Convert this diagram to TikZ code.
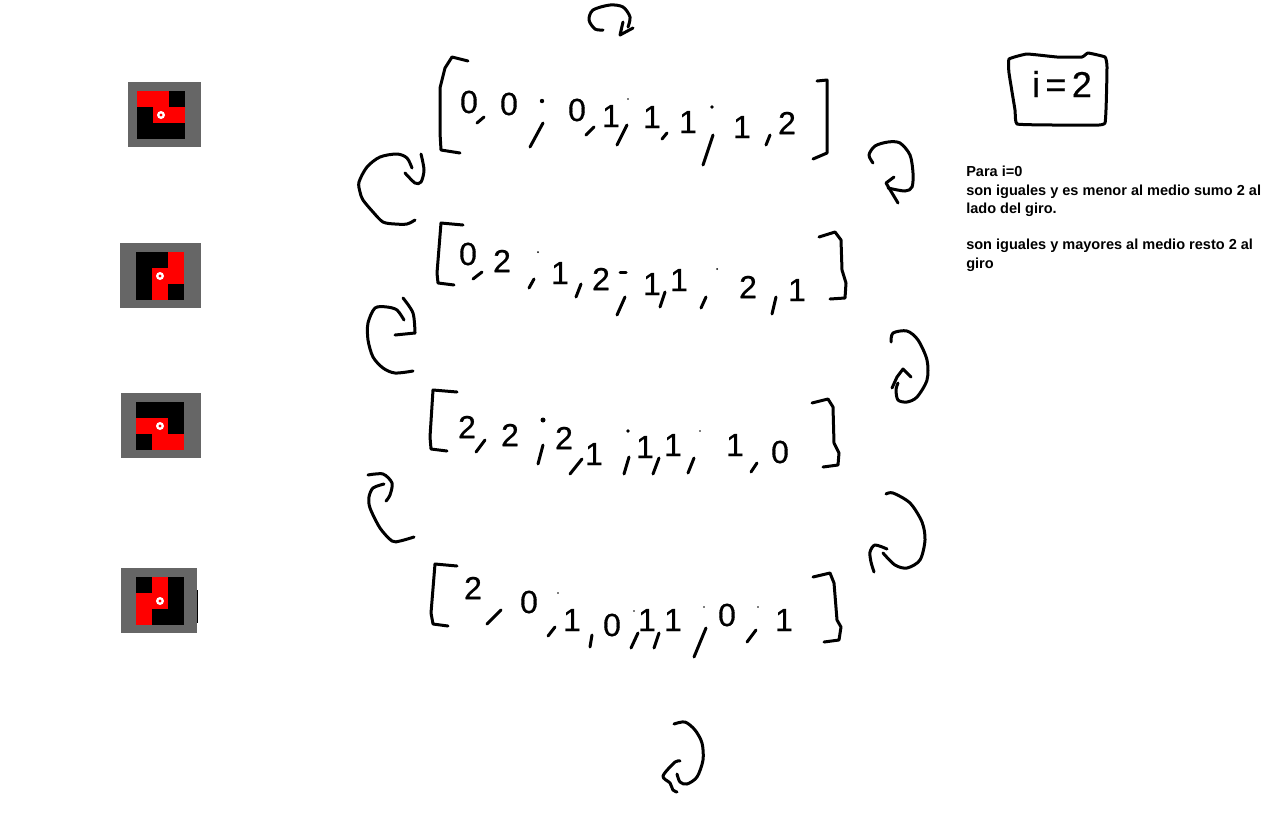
\documentclass[tikz,border=0pt]{standalone}
\usepackage{fontspec}
\newfontfamily\manofont[FakeBold=0.5]{Liberation Sans}
\newfontfamily\notafont{Liberation Sans}
\definecolor{marcogris}{HTML}{666666}
\tikzset{
	trazo/.style={line width=2.25pt, line cap=round, line join=round},
	digito/.style={inner sep=0pt, font=\manofont\fontsize{24}{26}\selectfont},
	notas/.style={inner sep=0pt, align=left, anchor=north west, font=\notafont\bfseries\fontsize{10.9}{13.7}\selectfont}
}
\begin{document}
\begin{tikzpicture}[x=0.75pt, y=-0.75pt]
	\useasboundingbox (0,0) rectangle (1266,819);
	\foreach \gxa/\gya/\gxb/\gyb/\bx/\by/\celdas in {
		128/82/201/147/137/91/{0/0,1/0,1/1,2/1},
		120/243/201/308/136/252/{2/0,2/1,1/1,1/2},
		121/393/201/458/136/402/{0/1,1/1,1/2,2/2},
		121/568/197/633/136/577/{1/0,1/1,0/1,0/2}}{
		\fill[marcogris] (\gxa,\gya) rectangle (\gxb,\gyb);
		\fill[black] (\bx,\by) rectangle ++(48,48);
		\foreach \c/\f in \celdas {
			\fill[red] (\bx+16*\c,\by+16*\f) rectangle ++(16,16);
		}
		\fill[white] (\bx+24,\by+24) circle[radius=4];
		\fill[red] (\bx+24,\by+24) circle[radius=1.7];
	}
	\draw[line width=1pt] (197.5,590)--(197.5,623);

	\foreach \n/\px/\py/\dig in {
		a/469/102/0, b/509/104/0, c/577/110/0, d/611/116/1, e/652/117/1, f/688/122/1, g/742/127/1, h/787/123/2}{
		\node[digito] (fila1\n) at (\px,\py) {\dig};
	}
	\foreach \n/\px/\py/\dig in {
		a/468/254/0, b/502/261/2, c/560/273/1, d/601/279/2, e/652/284/1, f/679/280/1, g/748/287/2, h/797/290/1}{
		\node[digito] (fila2\n) at (\px,\py) {\dig};
	}
	\foreach \n/\px/\py/\dig in {
		a/467/427/2, b/510/435/2, c/564/438/2, d/594/454/1, e/645/447/1, f/673/445/1, g/735/445/1, h/780/452/0}{
		\node[digito] (fila3\n) at (\px,\py) {\dig};
	}
	\foreach \n/\px/\py/\dig in {
		a/473/588/2, b/529/602/0, c/572/620/1, d/612/625/0, e/647/620/1, f/673/620/1, g/727/615/0, h/784/620/1}{
		\node[digito] (fila4\n) at (\px,\py) {\dig};
	}

	\foreach \xa/\ya/\xb/\yb in {
		477/123/484/117, 543/123/530/147, 586/135/594/127, 627/125/617/145, 667/133/662/139, 713/135/703/165, 770/135/766/145,
		473/279/482/272, 534/279/529/288, 581/284/576/297, 620/272/626/272, 625/297/617/315, 665/292/660/307, 706/297/701/308, 776/297/772/314,
		485/440/476/452, 543/445/538/464, 582/459/570/474, 629/457/624/474, 659/458/653/474, 694/458/688/473, 757/463/751/472,
		501/610/487/624, 555/627/548/636, 592/635/590/647, 638/633/631/648, 659/633/654/648, 706/628/694/657, 756/630/747/642}{
		\draw[trazo] (\xa,\ya)--(\xb,\yb);
	}
	\foreach \px/\py/\rad in {542/101/2.2, 628/99/0.8, 712/107/1.8, 538/252/1, 717/269/1, 543/420/2.5, 628/431/1.8, 700/431/0.8, 558/593/0.8, 634/611/0.8, 704/607/0.8, 758/607/0.8}{
		\fill (\px,\py) circle[radius=\rad];
	}

	\draw[trazo] (468,61)--(452,57)--(445,68)--(440,88)--(440,133)--(441,150)--(460,153);
	\draw[trazo] (817,81)--(827,80)--(827,153)--(813,159);
	\draw[trazo] (463,225)--(441,223)--(437,273)--(438,283)--(454,285);
	\draw[trazo] (819,237)--(835,232)--(841,240)--(842,270)--(846,283)--(845,298)--(830,299);
	\draw[trazo] (457,392)--(433,390)--(430,437)--(431,449)--(447,451);
	\draw[trazo] (812,403)--(828,399)--(833,407)--(834,443)--(839,453)--(838,465)--(823,467);
	\draw[trazo] (457,566)--(435,564)--(431,613)--(433,624)--(448,626);
	\draw[trazo] (813,577)--(830,573)--(834,583)--(837,620)--(841,627)--(839,640)--(824,642);

	\draw[trazo] plot[smooth] coordinates {(603,30) (595,29) (589,20) (593,10) (610,5) (623,7) (630,17) (628,27)};
	\draw[trazo] (623,22)--(620,35)--(633,28);

	\draw[trazo] plot[smooth] coordinates {(421,154) (424,170) (421,182) (415,183) (405,173)};
	\draw[trazo] plot[smooth] coordinates {(412,168) (407,158) (397,154) (380,157) (367,167) (359,182) (360,192) (363,200) (373,212) (383,222) (395,224) (407,224) (415,220)};

	\draw[trazo] plot[smooth] coordinates {(873,163) (869,155) (875,146) (888,142) (900,143) (910,155) (913,173) (912,187) (905,191) (888,188)};
	\draw[trazo] (894,177)--(886,183)--(898,203);

	\draw[trazo] plot[smooth] coordinates {(403,298) (413,313) (415,333)};
	\draw[trazo] (415,333)--(395,335);
	\draw[trazo] plot[smooth] coordinates {(404,320) (397,310) (387,307) (375,308) (368,323) (368,340) (373,357) (383,368) (395,373) (413,371)};

	\draw[trazo] plot[smooth] coordinates {(891,342) (893,333) (907,331) (918,340) (927,360) (927,380) (917,397) (907,402) (898,400) (896,390) (898,383)};
	\draw[trazo] (892,388)--(897,377)--(903,369)--(911,377);

	\draw[trazo] plot[smooth] coordinates {(368,475) (383,474) (392,483) (390,495) (386,501)};
	\draw[trazo] plot[smooth] coordinates {(384,484) (373,488) (369,497) (370,508) (380,528) (392,541) (400,541) (414,537)};

	\draw[trazo] plot[smooth] coordinates {(886,494) (893,493) (910,503) (922,522) (925,540) (920,560) (907,568) (895,565) (883,553)};
	\draw[trazo] plot[smooth] coordinates {(887,549) (875,545) (870,552) (871,562) (874,572)};

	\draw[trazo] plot[smooth] coordinates {(674,724) (685,722) (695,730) (702,743) (703,760) (697,777) (687,784) (680,782) (677,774)};
	\draw[trazo] plot[smooth] coordinates {(680,761) (675,762) (663,776) (670,783) (673,790) (677,792)};

	\draw[trazo] plot[smooth cycle, tension=0.2] coordinates {(1009,59) (1027,54) (1057,57) (1082,57) (1088,53) (1105,57) (1107,67) (1105,123) (1085,125) (1053,125) (1017,124) (1015,110) (1009,73)};
	\node[digito, font=\manofont\fontsize{27}{29}\selectfont] (indice) at (1062,84) {i\hspace{4pt}=\hspace{4pt}2};

	\node[notas] (texto) at (966,166) {Para i=0\\son iguales y es menor al medio sumo 2 al\\lado del giro.\\[13.7pt]son iguales y mayores al medio resto 2 al\\giro};
\end{tikzpicture}
\end{document}
